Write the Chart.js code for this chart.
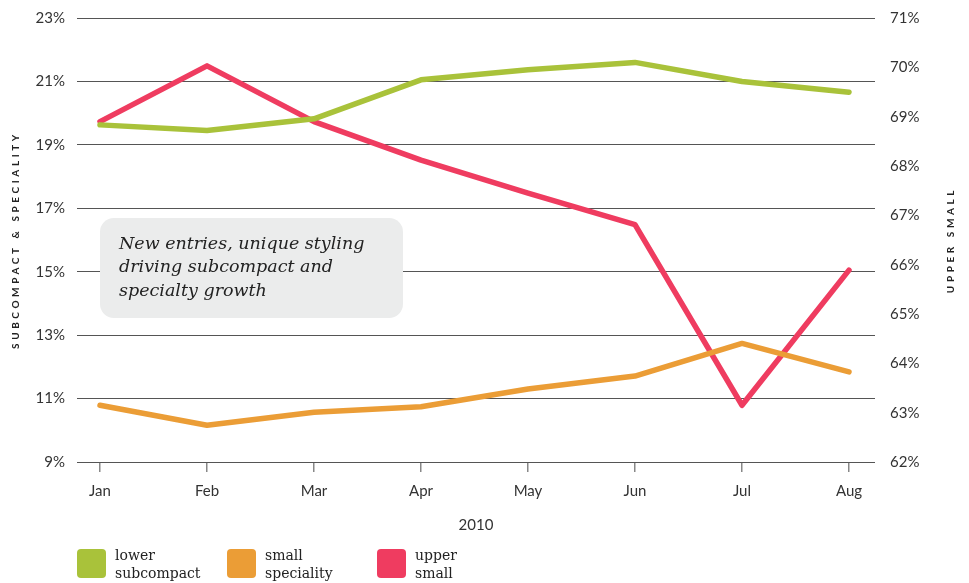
<!DOCTYPE html>
<html>
<head>
<meta charset="utf-8">
<script src="https://cdn.jsdelivr.net/npm/chart.js@4"></script>
<style>
  html, body { margin: 0; padding: 0; background: #fff; }
  #wrap { width: 969px; height: 583px; position: relative; }
</style>
</head>
<body>
<div id="wrap"><canvas id="segmentChart"></canvas></div>
<script>
var months = ['Jan', 'Feb', 'Mar', 'Apr', 'May', 'Jun', 'Jul', 'Aug'];
var lowerSubcompact = [19.63, 19.45, 19.82, 21.05, 21.37, 21.6, 21.0, 20.66];
var smallSpeciality = [10.79, 10.16, 10.57, 10.74, 11.3, 11.71, 12.74, 11.84];
var upperSmall = [68.9, 70.03, 68.9, 68.12, 67.45, 66.81, 63.15, 65.89];
var leftTicks = [9, 11, 13, 15, 17, 19, 21, 23];
var rightTicks = [62, 63, 64, 65, 66, 67, 68, 69, 70, 71];
var seriesNames = [['lower', 'subcompact'], ['small', 'speciality'], ['upper', 'small']];
var seriesColors = ['#a9c23a', '#eb9d36', '#ef3c60'];
var xTitle = '2010';
var leftTitle = 'SUBCOMPACT & SPECIALITY';
var rightTitle = 'UPPER SMALL';
var noteLines = ['New entries, unique styling', 'driving subcompact and', 'specialty growth'];

var FONT = 'Lato, "Open Sans", sans-serif';
var SLAB = '"DejaVu Serif", serif';

function points(values) {
    return values.map(function (v, i) { return { x: i, y: v }; });
}

function lineSet(name, values, color, axis) {
    return {
        label: name.join(' '),
        data: points(values),
        yAxisID: axis,
        borderColor: color,
        backgroundColor: color,
        borderWidth: 5.5,
        borderCapStyle: 'round',
        borderJoinStyle: 'round',
        pointRadius: 0,
        pointHoverRadius: 0,
        tension: 0
    };
}

// fixed side widths; drop the label overhang so the plot top follows layout padding
function fixWidth(w) {
    return function (scale) {
        scale.width = w;
        scale.paddingTop = 0;
        scale.paddingBottom = 0;
    };
}

var decorations = {
    id: 'decorations',
    beforeDatasetsDraw: function (chart) {
        // grey callout box sits over the grid, under the lines
        var ctx = chart.ctx;
        ctx.save();
        ctx.fillStyle = '#ebecec';
        ctx.beginPath();
        ctx.roundRect(100, 218, 303, 100, 14);
        ctx.fill();
        ctx.fillStyle = '#222';
        ctx.font = 'italic 17.5px ' + SLAB;
        ctx.textBaseline = 'middle';
        ctx.textAlign = 'left';
        noteLines.forEach(function (t, i) {
            ctx.fillText(t, 119, 244 + i * 23.5);
        });
        ctx.restore();
    },
    afterDraw: function (chart) {
        var ctx = chart.ctx;
        var area = chart.chartArea;
        var midY = (area.top + area.bottom) / 2;
        ctx.save();
        ctx.fillStyle = '#222';
        ctx.font = 'bold 10px ' + FONT;
        ctx.letterSpacing = '3.6px';
        ctx.textAlign = 'center';
        ctx.textBaseline = 'middle';
        [[16, leftTitle], [951, rightTitle]].forEach(function (t) {
            ctx.save();
            ctx.translate(t[0], midY);
            ctx.rotate(-Math.PI / 2);
            ctx.fillText(t[1], 0, 0);
            ctx.restore();
        });
        ctx.restore();

        // legend: rounded swatch plus two-line label
        ctx.save();
        ctx.font = '14px ' + SLAB;
        ctx.textBaseline = 'middle';
        ctx.textAlign = 'left';
        seriesNames.forEach(function (name, i) {
            var x = 77 + i * 150;
            ctx.fillStyle = seriesColors[i];
            ctx.beginPath();
            ctx.roundRect(x, 549, 29, 29, 4);
            ctx.fill();
            ctx.fillStyle = '#222';
            ctx.fillText(name[0], x + 38, 556);
            ctx.fillText(name[1], x + 38, 574);
        });
        ctx.restore();
    }
};

new Chart(document.getElementById('segmentChart'), {
    type: 'line',
    data: {
        datasets: [
            lineSet(seriesNames[0], lowerSubcompact, seriesColors[0], 'y'),
            lineSet(seriesNames[1], smallSpeciality, seriesColors[1], 'y'),
            lineSet(seriesNames[2], upperSmall, seriesColors[2], 'y1')
        ]
    },
    options: {
        animation: false,
        responsive: true,
        maintainAspectRatio: false,
        layout: { padding: { top: 18, bottom: 49, left: 0, right: 0 } },
        plugins: {
            legend: { display: false },
            tooltip: { enabled: false }
        },
        scales: {
            x: {
                type: 'linear',
                min: -0.215,
                max: 7.243,
                afterBuildTicks: function (scale) {
                    scale.ticks = months.map(function (m, i) { return { value: i }; });
                },
                afterFit: function (scale) { scale.height = 72; },
                border: { display: false },
                grid: { drawOnChartArea: false, tickLength: 10, color: '#888', lineWidth: 1.5 },
                ticks: {
                    padding: 10,
                    color: '#333',
                    font: { family: FONT, size: 15 },
                    maxRotation: 0,
                    autoSkip: false,
                    callback: function (v) { return months[v]; }
                },
                title: {
                    display: true,
                    text: xTitle,
                    color: '#333',
                    font: { family: FONT, size: 15 },
                    padding: { top: 0, bottom: 0 }
                }
            },
            y: {
                position: 'left',
                min: 9,
                max: 23,
                afterBuildTicks: function (scale) {
                    scale.ticks = leftTicks.map(function (v) { return { value: v }; });
                },
                afterFit: fixWidth(77),
                border: { display: false },
                grid: { drawTicks: false, color: '#555', lineWidth: 1 },
                ticks: {
                    padding: 12,
                    color: '#333',
                    font: { family: FONT, size: 15 },
                    callback: function (v) { return v + '%'; }
                }
            },
            y1: {
                position: 'right',
                min: 62,
                max: 71,
                afterBuildTicks: function (scale) {
                    scale.ticks = rightTicks.map(function (v) { return { value: v }; });
                },
                afterFit: fixWidth(94),
                border: { display: false },
                grid: { display: false, drawTicks: false },
                ticks: {
                    padding: 15,
                    color: '#333',
                    font: { family: FONT, size: 15 },
                    callback: function (v) { return v + '%'; }
                }
            }
        }
    },
    plugins: [decorations]
});
</script>
</body>
</html>
